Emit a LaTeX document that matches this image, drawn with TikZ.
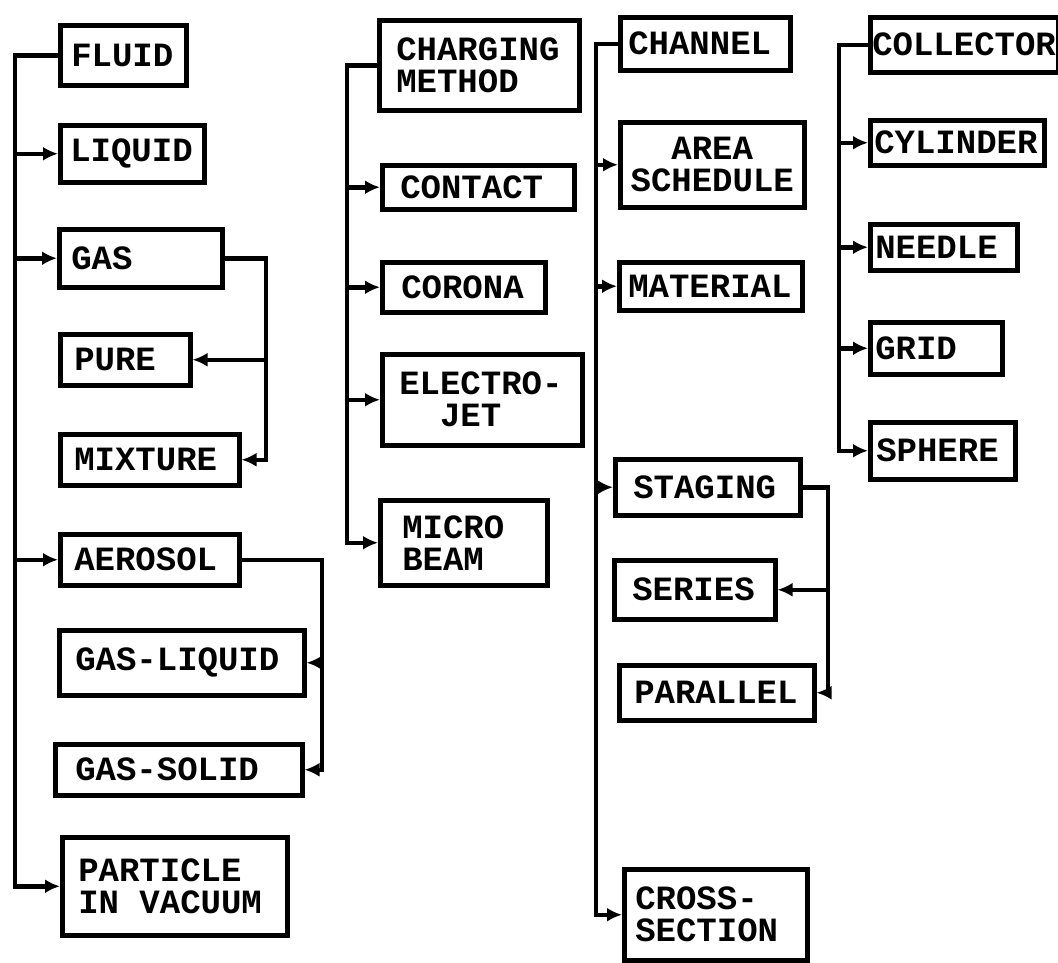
\documentclass[tikz,border=0pt]{standalone}
\usepackage{fontspec}
\newfontfamily\platefont{Liberation Mono}
\usetikzlibrary{arrows.meta}
\tikzset{
  every picture/.style={x=1pt, y=1pt, line width=4.5pt},
  box/.style={draw, anchor=north west, align=left, inner ysep=0pt, inner xsep=14pt,
    font=\platefont\bfseries\fontsize{34}{32}\selectfont,
    execute at begin node={\hyphenpenalty=10000\relax}},
  feed/.style={-{Latex[length=15pt,width=14pt]}, line width=4.5pt},
}
\begin{document}
\begin{tikzpicture}
  \path[fill=white, use as bounding box] (0,0) rectangle (1058,-962);
  % medium
  \node[box, text width=104pt, inner xsep=11pt, minimum height=60pt] (fluid) at (58,-23) {FLUID};
  \node[box, text width=124pt, inner xsep=10pt, minimum height=57pt] (liquid) at (58,-123) {LIQUID};
  \node[box, text width=139pt, inner xsep=12pt, minimum height=58pt] (gas) at (57,-227) {GAS};
  \node[box, text width=102pt, minimum height=51pt] (pure) at (58,-332) {PURE};
  \node[box, text width=151pt, minimum height=51pt] (mixture) at (58,-432) {MIXTURE};
  \node[box, text width=151pt, minimum height=51pt] (aerosol) at (58,-532) {AEROSOL};
  \node[box, text width=213pt, inner xsep=16pt, minimum height=65pt] (gasliquid) at (57,-628) {GAS-LIQUID};
  \node[box, text width=207pt, inner xsep=20pt, minimum height=51pt] (gassolid) at (53,-742) {GAS-SOLID};
  \node[box, text width=193pt, inner xsep=16pt, minimum height=98pt] (particle) at (60,-835) {PARTICLE\\IN\hphantom{X}VACUUM};
  % charging
  \node[box, text width=166pt, inner xsep=17pt, minimum height=90pt] (charging) at (377,-18) {CHARGING\\METHOD};
  \node[box, text width=156pt, inner xsep=18pt, minimum height=44pt] (contact) at (380,-163) {CONTACT};
  \node[box, text width=125pt, inner xsep=19pt, minimum height=50pt] (corona) at (380,-260) {CORONA};
  \node[box, text width=166pt, inner xsep=17pt, minimum height=91pt] (electrojet) at (380,-352) {ELECTRO-\\\hphantom{EL}JET};
  \node[box, text width=123pt, inner xsep=22pt, minimum height=85pt] (microbeam) at (378,-498) {MICRO\\BEAM};
  % channel
  \node[box, text width=154pt, inner xsep=8pt, minimum height=53pt] (channel) at (618,-15) {CHANNEL};
  \node[box, text width=168pt, inner xsep=8pt, minimum height=85pt, align=center] (area) at (618,-120) {AREA\\SCHEDULE};
  \node[box, text width=165pt, inner xsep=9pt, minimum height=48pt] (material) at (617,-260) {MATERIAL};
  \node[box, text width=149pt, inner xsep=18pt, minimum height=56pt] (staging) at (613,-457) {STAGING};
  \node[box, text width=125pt, inner xsep=18pt, minimum height=59pt] (series) at (612,-558) {SERIES};
  \node[box, text width=165pt, inner xsep=15pt, minimum height=55pt] (parallel) at (617,-663) {PARALLEL};
  \node[box, text width=161pt, inner xsep=11pt, minimum height=91pt] (crosssection) at (622,-867) {CROSS-\\SECTION};
  % collector
  \node[box, text width=184pt, inner xsep=2pt, minimum height=55pt] (collector) at (868,-15) {COLLECTOR};
  \node[box, text width=166pt, inner xsep=4pt, minimum height=45pt] (cylinder) at (868,-118) {CYLINDER};
  \node[box, text width=137pt, inner xsep=5pt, minimum height=46pt] (needle) at (868,-222) {NEEDLE};
  \node[box, text width=122pt, inner xsep=5pt, minimum height=52pt] (grid) at (868,-320) {GRID};
  \node[box, text width=133pt, inner xsep=6pt, minimum height=57pt] (sphere) at (868,-420) {SPHERE};
  % spines
  \coordinate (spineA) at (15,0);
  \coordinate (spineB) at (266,0);
  \coordinate (spineC) at (322,0);
  \coordinate (spineD) at (347,0);
  \coordinate (spineE) at (596,0);
  \coordinate (spineF) at (828,0);
  \coordinate (spineG) at (839,0);
  \draw[feed] (fluid.west) -- (fluid.west -| spineA) |- (particle.west);
  \foreach \n in {liquid,gas,aerosol} \draw[feed] (\n.west -| spineA) -- (\n.west);
  \draw[feed] (gas.east) -- (gas.east -| spineB) |- (mixture.east);
  \draw[feed] (pure.east -| spineB) -- (pure.east);
  \draw[feed] (aerosol.east) -- (aerosol.east -| spineC) |- (gassolid.east);
  \draw[feed] (gasliquid.east -| spineC) -- (gasliquid.east);
  \draw[feed] (charging.west) -- (charging.west -| spineD) |- (microbeam.west);
  \foreach \n in {contact,corona,electrojet} \draw[feed] (\n.west -| spineD) -- (\n.west);
  \draw[feed] (channel.west) -- (channel.west -| spineE) |- (crosssection.west);
  \foreach \n in {area,material,staging} \draw[feed] (\n.west -| spineE) -- (\n.west);
  \draw[feed] (staging.east) -- (staging.east -| spineF) |- (parallel.east);
  \draw[feed] (series.east -| spineF) -- (series.east);
  \draw[feed] (collector.west) -- (collector.west -| spineG) |- (sphere.west);
  \foreach \n in {cylinder,needle,grid} \draw[feed] (\n.west -| spineG) -- (\n.west);
\end{tikzpicture}
\end{document}
